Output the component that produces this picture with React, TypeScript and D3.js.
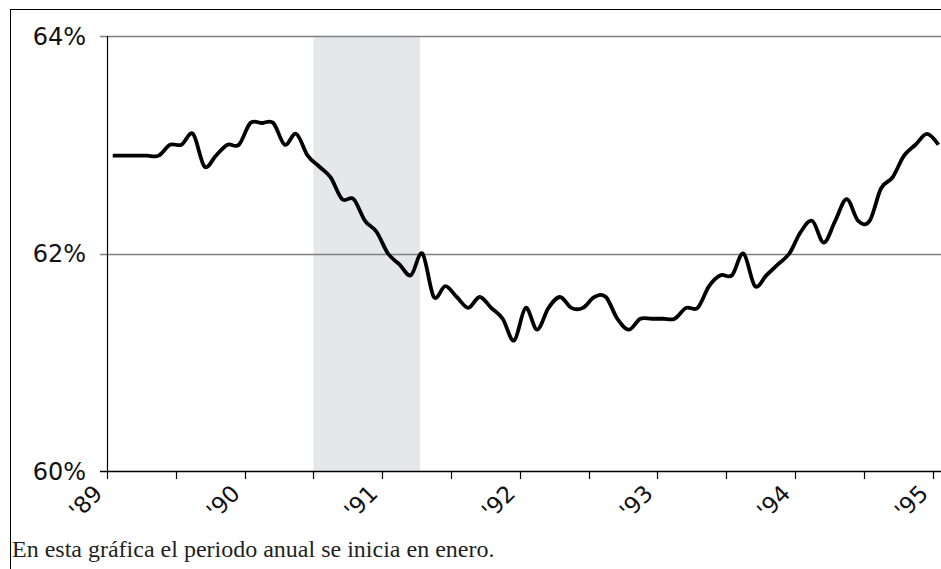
import React, { useEffect, useRef } from 'react';
import * as d3 from 'd3';

// monthly values, Jan 1989 .. Jan 1995 (percent)
const values = [
  62.9, 62.9, 62.9, 62.9, 62.9, 63.0, 63.0, 63.1, 62.8, 62.9, 63.0, 63.0,
  63.2, 63.2, 63.2, 63.0, 63.1, 62.9, 62.8, 62.7, 62.5, 62.5, 62.3, 62.2,
  62.0, 61.9, 61.8, 62.0, 61.6, 61.7, 61.6, 61.5, 61.6, 61.5, 61.4, 61.2,
  61.5, 61.3, 61.5, 61.6, 61.5, 61.5, 61.6, 61.6, 61.4, 61.3, 61.4, 61.4,
  61.4, 61.4, 61.5, 61.5, 61.7, 61.8, 61.8, 62.0, 61.7, 61.8, 61.9, 62.0,
  62.2, 62.3, 62.1, 62.3, 62.5, 62.3, 62.3, 62.6, 62.7, 62.9, 63.0, 63.1,
  63.0,
];

const yearLabels = ["'89", "'90", "'91", "'92", "'93", "'94", "'95"];
const yTicks = [60, 62, 64];
// shaded period, in months since Jan 1989
const recession = [18, 27.3];
const note = 'En esta gráfica el periodo anual se inicia en enero.';

const App = () => {
  const svgRef = useRef<SVGSVGElement>(null);

  useEffect(() => {
    const svg = d3.select(svgRef.current);
    svg.selectAll('*').remove();

    const width = 941;
    const left = 107;
    const right = 932.7;
    const top = 36;
    const bottom = 471;

    const x = d3.scaleLinear().domain([0, 72]).range([left, right]);
    const y = d3.scaleLinear().domain([60, 64]).range([bottom, top]);

    // outer frame
    svg.append('rect')
      .attr('x', 10.5)
      .attr('y', 9.5)
      .attr('width', 1000)
      .attr('height', 1000)
      .attr('fill', 'none')
      .attr('stroke', '#000')
      .attr('stroke-width', 1);

    // recession band
    svg.append('rect')
      .attr('x', x(recession[0]))
      .attr('y', top)
      .attr('width', x(recession[1]) - x(recession[0]))
      .attr('height', bottom - top)
      .attr('fill', '#e6e7e8');

    // grid lines + y ticks
    svg.append('g')
      .selectAll('line')
      .data(yTicks.filter(d => d !== 60))
      .join('line')
      .attr('x1', left - 7)
      .attr('x2', width)
      .attr('y1', d => Math.round(y(d)) + 0.5)
      .attr('y2', d => Math.round(y(d)) + 0.5)
      .attr('stroke', '#7f7f7f')
      .attr('stroke-width', 1.3);

    svg.append('g')
      .selectAll('text')
      .data(yTicks)
      .join('text')
      .attr('x', 86)
      .attr('y', d => y(d))
      .attr('dy', '0.36em')
      .attr('text-anchor', 'end')
      .attr('font-family', 'DejaVu Sans')
      .attr('font-size', 24)
      .attr('fill', '#111')
      .text(d => `${d}%`);

    // x axis
    svg.append('line')
      .attr('x1', left - 7)
      .attr('x2', width)
      .attr('y1', Math.round(bottom) + 0.5)
      .attr('y2', Math.round(bottom) + 0.5)
      .attr('stroke', '#000')
      .attr('stroke-width', 1.3);

    svg.append('line')
      .attr('x1', left + 0.5)
      .attr('x2', left + 0.5)
      .attr('y1', top)
      .attr('y2', bottom)
      .attr('stroke', '#000')
      .attr('stroke-width', 1.2);

    svg.append('g')
      .selectAll('line')
      .data(d3.range(0, 73, 6))
      .join('line')
      .attr('x1', d => Math.round(x(d)) + 0.5)
      .attr('x2', d => Math.round(x(d)) + 0.5)
      .attr('y1', bottom)
      .attr('y2', bottom + 8)
      .attr('stroke', '#000')
      .attr('stroke-width', 1.2);

    // year labels, rotated
    svg.append('g')
      .selectAll('text')
      .data(yearLabels)
      .join('text')
      .attr('transform', (d, i) => `translate(${x(i * 12) - 9},${bottom + 18}) rotate(-45)`)
      .attr('text-anchor', 'end')
      .attr('dy', '0.36em')
      .attr('font-family', 'DejaVu Sans')
      .attr('font-size', 23)
      .attr('fill', '#111')
      .text(d => d);

    // series
    const line = d3.line<number>()
      .x((d, i) => x(i + 0.5))
      .y(d => y(d))
      .curve(d3.curveCatmullRom.alpha(0));

    svg.append('path')
      .datum(values)
      .attr('fill', 'none')
      .attr('stroke', '#000')
      .attr('stroke-width', 3.8)
      .attr('stroke-linejoin', 'round')
      .attr('d', line);

    svg.append('text')
      .attr('x', 12)
      .attr('y', 557)
      .attr('font-family', 'Liberation Serif')
      .attr('font-size', 24)
      .attr('fill', '#231f20')
      .text(note);
  }, []);

  return (
    <div style={{ position: 'absolute', left: 0, top: 0 }}>
      <svg ref={svgRef} width="941" height="569" style={{ display: 'block', background: '#fff' }} />
    </div>
  );
};

export default App;
